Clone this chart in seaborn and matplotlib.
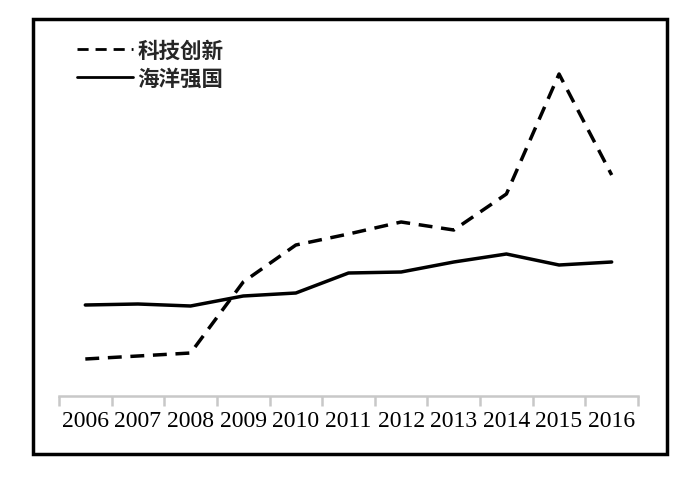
import matplotlib.pyplot as plt
import matplotlib.patches as mpatches
import seaborn as sns
import pandas as pd

# Dados (escala arbitrária, sem eixo y)
anos = ["2006", "2007", "2008", "2009", "2010", "2011", "2012", "2013", "2014", "2015", "2016"]
keji = [37, 40, 43, 114, 151, 162, 174, 166, 202, 322, 221]
haiyang = [91, 92, 90, 100, 103, 123, 124, 134, 142, 131, 134]
series = ["科技创新", "海洋强国"]

sns.set_theme(style="white")
plt.rcParams['font.family'] = ['Noto Sans CJK SC', 'DejaVu Sans']

df = pd.DataFrame({
    "ano": list(range(len(anos))) * 2,
    "valor": keji + haiyang,
    "serie": [series[0]] * len(anos) + [series[1]] * len(anos),
})

fig = plt.figure(figsize=(7, 4.81), dpi=100)
ax = fig.add_axes([59 / 700, 1 - 397 / 481, (638 - 59) / 700, (397 - 40) / 481])

sns.lineplot(data=df, x="ano", y="valor", hue="serie", style="serie",
             palette={series[0]: "black", series[1]: "black"},
             dashes={series[0]: (4, 2.5), series[1]: ""},
             linewidth=2.5, ax=ax)

ax.set_xlim(-0.5, len(anos) - 0.5)
ax.set_ylim(0, 357)
ax.set_xlabel("")
ax.set_ylabel("")
ax.set_yticks([])

# ticks de categoria nas fronteiras
ax.set_xticks(range(len(anos)))
ax.set_xticklabels(anos, family=['Liberation Serif'], fontsize=17)
ax.set_xticks([i - 0.5 for i in range(len(anos) + 1)], minor=True)
ax.tick_params(axis="x", which="major", length=0, pad=10, colors="black")
ax.tick_params(axis="x", which="minor", length=7, width=1.8, color="#c8c8c8", direction="out", bottom=True)

for s in ["top", "left", "right"]:
    ax.spines[s].set_visible(False)
ax.spines["bottom"].set_color("#c8c8c8")
ax.spines["bottom"].set_linewidth(1.8)

leg = ax.legend(loc="upper left", bbox_to_anchor=(77 / 700, 1 - 41 / 481),
                bbox_transform=fig.transFigure, frameon=False,
                prop={"size": 15.5, "weight": "bold"},
                handlelength=2.6, handletextpad=0.2, labelspacing=0.3,
                borderpad=0, borderaxespad=0)
for line in leg.get_lines():
    line.set_linewidth(2)

# moldura em volta da figura
fig.patches.append(mpatches.Rectangle((33 / 700, 1 - 455 / 481), (667 - 33) / 700, (455 - 20) / 481,
                                      transform=fig.transFigure, fill=False,
                                      edgecolor="black", linewidth=2.5))

fig.savefig("out.png", dpi=100)
